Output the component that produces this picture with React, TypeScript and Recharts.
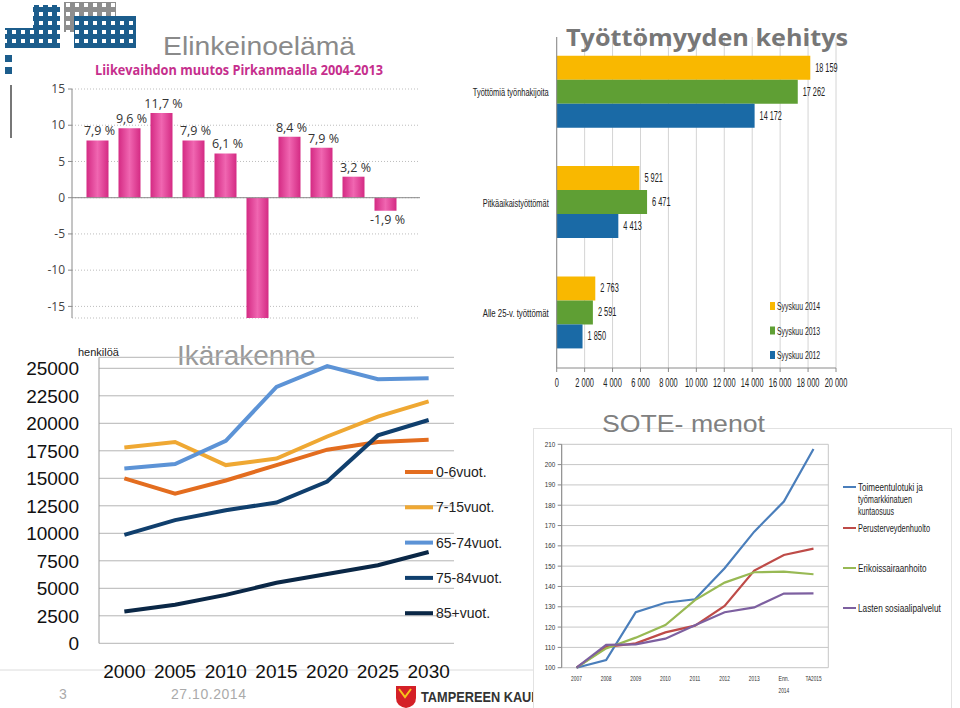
import React from 'react';
import {
  BarChart, Bar, ComposedChart, Line, XAxis, YAxis, CartesianGrid, ReferenceLine, LabelList,
} from 'recharts';

const SANS = "'Liberation Sans', Arial, sans-serif";
const OPEN = "'Open Sans', sans-serif";

// Liikevaihdon muutos Pirkanmaalla 2004-2013
const turnoverYears = ['2004', '2005', '2006', '2007', '2008', '2009', '2010', '2011', '2012', '2013'];
const turnoverChange = [7.9, 9.6, 11.7, 7.9, 6.1, -20, 8.4, 6.9, 2.9, -1.8];
const turnoverLabels = ['7,9 %', '9,6 %', '11,7 %', '7,9 %', '6,1 %', '', '8,4 %', '7,9 %', '3,2 %', '-1,9 %'];
const turnoverTicks = [-15, -10, -5, 0, 5, 10, 15];

// Työttömyyden kehitys
const jobGroups = ['Työttömiä työnhakijoita', 'Pitkäaikaistyöttömät', 'Alle 25-v. työttömät'];
const sep2014 = [18159, 5921, 2763];
const sep2013 = [17262, 6471, 2591];
const sep2012 = [14172, 4413, 1850];
const jobTicks = [0, 2000, 4000, 6000, 8000, 10000, 12000, 14000, 16000, 18000, 20000];

// Ikärakenne
const ageYears = [2000, 2005, 2010, 2015, 2020, 2025, 2030];
const age0to6 = [15000, 13600, 14800, 16200, 17600, 18300, 18500];
const age7to15 = [17800, 18300, 16200, 16800, 18800, 20600, 22000];
const age65to74 = [15900, 16300, 18400, 23300, 25200, 24000, 24100];
const age75to84 = [9850, 11200, 12100, 12800, 14700, 18900, 20300];
const age85plus = [2900, 3500, 4400, 5500, 6300, 7100, 8300];
const ageTicks = [0, 2500, 5000, 7500, 10000, 12500, 15000, 17500, 20000, 22500, 25000];

// SOTE-menot
const soteYears = ['2007', '2008', '2009', '2010', '2011', '2012', '2013', 'Enn. 2014', 'TA2015'];
const toimeentulotuki = [100, 103.8, 127.3, 132, 133.7, 149, 167, 181.8, 207.7];
const perusterveydenhuolto = [100, 110.2, 112, 117.4, 120.7, 130.4, 147.8, 155.5, 158.6];
const erikoissairaanhoito = [100, 109.5, 114.8, 121, 133.3, 141.9, 147, 147.3, 146];
const lastenSosiaali = [100, 111.2, 111.5, 114.3, 120.9, 127.3, 129.7, 136.5, 136.6];
const soteTicks = [100, 110, 120, 130, 140, 150, 160, 170, 180, 190, 200, 210];

const jobSeries = [
  { key: 's2014', name: 'Syyskuu 2014', color: '#f9b800', values: sep2014 },
  { key: 's2013', name: 'Syyskuu 2013', color: '#5f9f34', values: sep2013 },
  { key: 's2012', name: 'Syyskuu 2012', color: '#1a6aa6', values: sep2012 },
];

const ageSeries = [
  { key: 'a0', name: '0-6vuot.', color: '#e36d1f', values: age0to6 },
  { key: 'a7', name: '7-15vuot.', color: '#efa833', values: age7to15 },
  { key: 'a65', name: '65-74vuot.', color: '#5c93d6', values: age65to74 },
  { key: 'a75', name: '75-84vuot.', color: '#103f6d', values: age75to84 },
  { key: 'a85', name: '85+vuot.', color: '#0a2746', values: age85plus },
];

const soteSeries = [
  { key: 'tt', lines: ['Toimeentulotuki ja', 'työmarkkinatuen', 'kuntaosuus'], color: '#4a7ebb', values: toimeentulotuki },
  { key: 'pt', lines: ['Perusterveydenhuolto'], color: '#be4b48', values: perusterveydenhuolto },
  { key: 'es', lines: ['Erikoissairaanhoito'], color: '#98b954', values: erikoissairaanhoito },
  { key: 'ls', lines: ['Lasten sosiaalipalvelut'], color: '#7d60a0', values: lastenSosiaali },
];

const fmtThousands = (v: number) => String(v).replace(/\B(?=(\d{3})+(?!\d))/g, ' ');

// condensed look: squeeze a normal font to a per-character width
const squeeze = (s: string, k: number) => ({ textLength: s.length * k, lengthAdjust: 'spacingAndGlyphs' as const });

const renderTurnoverLabel = (p: any) => {
  const { x, y, width, height, index } = p;
  const text = turnoverLabels[index];
  if (!text) return null;
  const top = Math.min(y, y + height);
  const bottom = Math.max(y, y + height);
  const neg = turnoverChange[index] < 0;
  return (
    <text x={x + width / 2 + 2} y={neg ? bottom + 13 : top - 5} textAnchor="middle"
      fontSize={12.5} fill="#333" fontFamily={OPEN}>{text}</text>
  );
};

const renderJobLabel = (p: any) => {
  const { x, y, width, height, value } = p;
  const s = fmtThousands(value);
  return (
    <text x={x + width + 5} y={y + height / 2} dominantBaseline="central"
      fontSize={12.5} fill="#222" fontFamily={SANS} {...squeeze(s, 3.7)}>{s}</text>
  );
};

const renderJobTick = (p: any) => {
  const s = String(p.payload.value);
  return (
    <text x={p.x} y={p.y} textAnchor="end" dominantBaseline="central"
      fontSize={11.5} fill="#222" fontFamily={SANS} {...squeeze(s, 3.3)}>{s}</text>
  );
};

const renderJobXTick = (p: any) => {
  const s = fmtThousands(p.payload.value);
  return (
    <g transform={`translate(${p.x},${p.y}) scale(0.62,1)`}>
      <text x={0} y={0} dy="0.71em" textAnchor="middle" fontSize={12} fill="#222" fontFamily={SANS}>{s}</text>
    </g>
  );
};

const renderSoteTick = (p: any) => {
  const { x, y, payload } = p;
  const parts = soteYears[payload.value].split(' ');
  return (
    <g>
      {parts.map((t, i) => (
        <text key={i} x={x} y={y + 7 + i * 12.5} textAnchor="middle" fontSize={8} fill="#333"
          fontFamily={SANS} {...squeeze(t, 2.7)}>{t}</text>
      ))}
    </g>
  );
};

const renderSoteYTick = (p: any) => {
  const s = String(p.payload.value);
  return (
    <text x={p.x} y={p.y} textAnchor="end" dominantBaseline="central" fontSize={8} fill="#333"
      fontFamily={SANS} {...squeeze(s, 3.5)}>{s}</text>
  );
};

function TurnoverChart() {
  const data = turnoverYears.map((year, i) => ({ year, change: turnoverChange[i] }));
  return (
    <BarChart width={460} height={330} data={data} margin={{ top: 89, right: 40, bottom: 12, left: 0 }} barSize={22}>
      <defs>
        <linearGradient id="pinkBar" x1="0" y1="0" x2="1" y2="0">
          <stop offset="0%" stopColor="#d42a83" />
          <stop offset="50%" stopColor="#f066b1" />
          <stop offset="100%" stopColor="#d42a83" />
        </linearGradient>
      </defs>
      <CartesianGrid vertical={false} stroke="#bdbdbd" strokeDasharray="1 2" />
      <XAxis dataKey="year" hide padding={{ left: 9.5, right: 18.5 }} />
      <YAxis width={72} domain={[-16.6, 15]} ticks={turnoverTicks} allowDataOverflow interval={0}
        axisLine={{ stroke: '#8a8a8a' }} tickLine={{ stroke: '#8a8a8a' }} tickSize={4} tickMargin={3}
        tick={{ fontSize: 12, fill: '#444', fontFamily: OPEN }} />
      <ReferenceLine y={0} stroke="#8a8a8a" />
      <Bar dataKey="change" fill="url(#pinkBar)" isAnimationActive={false}>
        <LabelList dataKey="change" content={renderTurnoverLabel} />
      </Bar>
    </BarChart>
  );
}

function JoblessChart() {
  const data = jobGroups.map((group, i) => {
    const row: any = { group };
    jobSeries.forEach((s) => { row[s.key] = s.values[i]; });
    return row;
  });
  return (
    <BarChart layout="vertical" width={500} height={400} data={data}
      margin={{ top: 37, right: 124, bottom: 0, left: 0 }} barCategoryGap="17%" barGap={0}>
      <CartesianGrid horizontal={false} stroke="#d4d4d4" />
      <XAxis type="number" domain={[0, 20000]} ticks={jobTicks} interval={0} height={32}
        axisLine={{ stroke: '#8a8a8a' }} tickLine={{ stroke: '#8a8a8a' }}
        tickSize={4} tickMargin={6} tick={renderJobXTick} />
      <YAxis type="category" dataKey="group" width={96.7} axisLine={{ stroke: '#8a8a8a' }}
        tickLine={false} tickSize={0} tickMargin={8} tick={renderJobTick} />
      {jobSeries.map((s) => (
        <Bar key={s.key} dataKey={s.key} name={s.name} fill={s.color} isAnimationActive={false}>
          <LabelList dataKey={s.key} content={renderJobLabel} />
        </Bar>
      ))}
    </BarChart>
  );
}

function AgeChart() {
  const data = ageYears.map((year, i) => {
    const row: any = { year };
    ageSeries.forEach((s) => { row[s.key] = s.values[i]; });
    return row;
  });
  const bounds = ageYears.map((y) => y - 2.5).concat([ageYears[ageYears.length - 1] + 2.5]);
  return (
    <ComposedChart width={480} height={378} data={data} margin={{ top: 27.3, right: 26, bottom: 0, left: 0 }}>
      <CartesianGrid xAxisId="l" vertical={false} stroke="#b4b4b4" />
      <XAxis xAxisId="b" type="number" dataKey="year" domain={[1997.5, 2032.5]} ticks={bounds} interval={0}
        height={0} tick={false} tickSize={6} axisLine={{ stroke: '#9a9a9a' }} tickLine={{ stroke: '#9a9a9a' }} />
      <XAxis xAxisId="l" type="number" dataKey="year" domain={[1997.5, 2032.5]} ticks={ageYears} interval={0}
        height={64.7} axisLine={false} tickLine={false} tickSize={0} tickMargin={21}
        tick={{ fontSize: 19, fill: '#111', fontFamily: SANS }} />
      <YAxis domain={[0, 26000]} ticks={ageTicks} interval={0} width={99} axisLine={{ stroke: '#9a9a9a' }}
        tickLine={false} tickSize={0} tickMargin={20} tick={{ fontSize: 19, fill: '#111', fontFamily: SANS }} />
      {ageSeries.map((s) => (
        <Line key={s.key} xAxisId="l" dataKey={s.key} name={s.name} type="linear" stroke={s.color}
          strokeWidth={4} dot={false} isAnimationActive={false} />
      ))}
    </ComposedChart>
  );
}

function SoteChart() {
  const data = soteYears.map((name, idx) => {
    const row: any = { idx, name };
    soteSeries.forEach((s) => { row[s.key] = s.values[idx]; });
    return row;
  });
  const idxTicks = soteYears.map((_, i) => i);
  const gridTicks: number[] = [];
  for (let i = 0; i <= soteYears.length * 2; i++) gridTicks.push(-0.5 + i / 2);
  return (
    <ComposedChart width={419} height={270} data={data} margin={{ top: 16.3, right: 123.7, bottom: 0, left: 0 }}>
      <CartesianGrid xAxisId="g" stroke="#c6c6c6" />
      <XAxis xAxisId="g" type="number" dataKey="idx" domain={[-0.5, 8.5]} ticks={gridTicks} interval={0}
        height={0} tick={false} tickLine={false} axisLine={{ stroke: '#888' }} />
      <XAxis xAxisId="l" type="number" dataKey="idx" domain={[-0.5, 8.5]} ticks={idxTicks} interval={0}
        height={30.3} axisLine={false} tickLine={false} tickSize={0} tickMargin={6} tick={renderSoteTick} />
      <YAxis domain={[100, 210]} ticks={soteTicks} interval={0} width={28.7} axisLine={{ stroke: '#888' }}
        tickLine={{ stroke: '#888' }} tickSize={4} tickMargin={2.5} tick={renderSoteYTick} />
      {soteSeries.map((s) => (
        <Line key={s.key} xAxisId="l" dataKey={s.key} type="linear" stroke={s.color}
          strokeWidth={2.2} dot={false} isAnimationActive={false} />
      ))}
    </ComposedChart>
  );
}

const abs = (left: number, top: number): React.CSSProperties => ({ position: 'absolute', left, top });

export default function App() {
  return (
    <div style={{ position: 'absolute', left: 0, top: 0, width: 960, height: 708, overflow: 'hidden', background: '#fff' }}>
      <svg width={960} height={708} style={abs(0, 0)}>
        <defs>
          <pattern id="win" width="9" height="9" patternUnits="userSpaceOnUse">
            <rect x="3" y="3" width="4" height="4" fill="#fff" />
          </pattern>
        </defs>
        {/* logo */}
        <rect x={5} y={28} width={55} height={20} fill="#1c5d8c" />
        <rect x={33} y={5} width={27} height={43} fill="#1c5d8c" />
        <rect x={64} y={2} width={52} height={30} fill="#8e8e8e" />
        <rect x={74} y={16} width={62} height={32} fill="#1c5d8c" />
        <rect x={5} y={2} width={131} height={46} fill="url(#win)" />
        <rect x={5} y={55} width={7} height={7} fill="#1c5d8c" />
        <rect x={5} y={67} width={7} height={7} fill="#1c5d8c" />
        <line x1={11} y1={85} x2={11} y2={138} stroke="#777" strokeWidth={2} />

        <text x={163} y={55} fontSize={25} fill="#8a8a8a" fontFamily={SANS} textLength={192} lengthAdjust="spacingAndGlyphs">Elinkeinoelämä</text>
        <text x={95} y={75} fontSize={14} fontWeight={700} fill="#c62f8d" fontFamily={OPEN} textLength={288} lengthAdjust="spacingAndGlyphs">Liikevaihdon muutos Pirkanmaalla 2004-2013</text>

        <text x={78} y={356} fontSize={11} fill="#222" fontFamily={SANS}>henkilöä</text>
        <text x={177} y={365} fontSize={28} fill="#999" fontFamily={SANS}>Ikärakenne</text>

        {/* footer */}
        <line x1={0} y1={670} x2={533} y2={670} stroke="#dcdcdc" />
        <text x={63} y={699} fontSize={14} fill="#aaa" fontFamily={SANS} textAnchor="middle">3</text>
        <text x={171} y={699} fontSize={14} fill="#aaa" fontFamily={SANS} textLength={75}>27.10.2014</text>
        <path d="M396 686 h20 v12 q0 8 -10 10 q-10 -2 -10 -10 z" fill="#d42027" />
        <path d="M399 689 l6 8 l6 -8" stroke="#f6c31a" strokeWidth={2} fill="none" />
        <text x={421} y={702} fontSize={14} fontWeight={700} fill="#333" fontFamily={SANS} textLength={150} lengthAdjust="spacingAndGlyphs">TAMPEREEN KAUPUNKI</text>
      </svg>

      <div style={abs(0, 0)}><TurnoverChart /></div>
      <div style={abs(460, 0)}><JoblessChart /></div>
      <div style={abs(0, 330)}><AgeChart /></div>

      <div style={{ ...abs(533, 428), width: 419, height: 290, background: '#fff', border: '1px solid #e2e2e2', boxSizing: 'border-box' }} />
      <div style={abs(533, 428)}><SoteChart /></div>

      <svg width={960} height={708} style={{ ...abs(0, 0), pointerEvents: 'none' }}>
        <text x={707} y={46} textAnchor="middle" fontSize={24} fontWeight={700} fill="#777" fontFamily={OPEN} textLength={282} lengthAdjust="spacingAndGlyphs">Työttömyyden kehitys</text>
        {jobSeries.map((s, i) => (
          <g key={s.key}>
            <rect x={770} y={302 + i * 24.5} width={5} height={8} fill={s.color} />
            <text x={777} y={306 + i * 24.5} dominantBaseline="central" fontSize={11.5} fill="#222" fontFamily={SANS} {...squeeze(s.name, 3.6)}>{s.name}</text>
          </g>
        ))}
        {ageSeries.map((s, i) => (
          <g key={s.key}>
            <line x1={405} x2={433} y1={472 + i * 35.3} y2={472 + i * 35.3} stroke={s.color} strokeWidth={4} />
            <text x={436} y={472 + i * 35.3} dominantBaseline="central" fontSize={14} fill="#222" fontFamily={SANS}>{s.name}</text>
          </g>
        ))}
        <text x={602} y={432} fontSize={24} fill="#808080" fontFamily={SANS} textLength={163} lengthAdjust="spacingAndGlyphs">SOTE- menot</text>
        {soteSeries.map((s, i) => {
          const y0 = [487, 528, 568, 608][i];
          return (
            <g key={s.key}>
              <line x1={843} x2={856} y1={y0} y2={y0} stroke={s.color} strokeWidth={2} />
              {s.lines.map((t, j) => (
                <text key={j} x={858} y={y0 + j * 12} dominantBaseline="central" fontSize={10} fill="#222" fontFamily={SANS} {...squeeze(t, 3.6)}>{t}</text>
              ))}
            </g>
          );
        })}
      </svg>
    </div>
  );
}
